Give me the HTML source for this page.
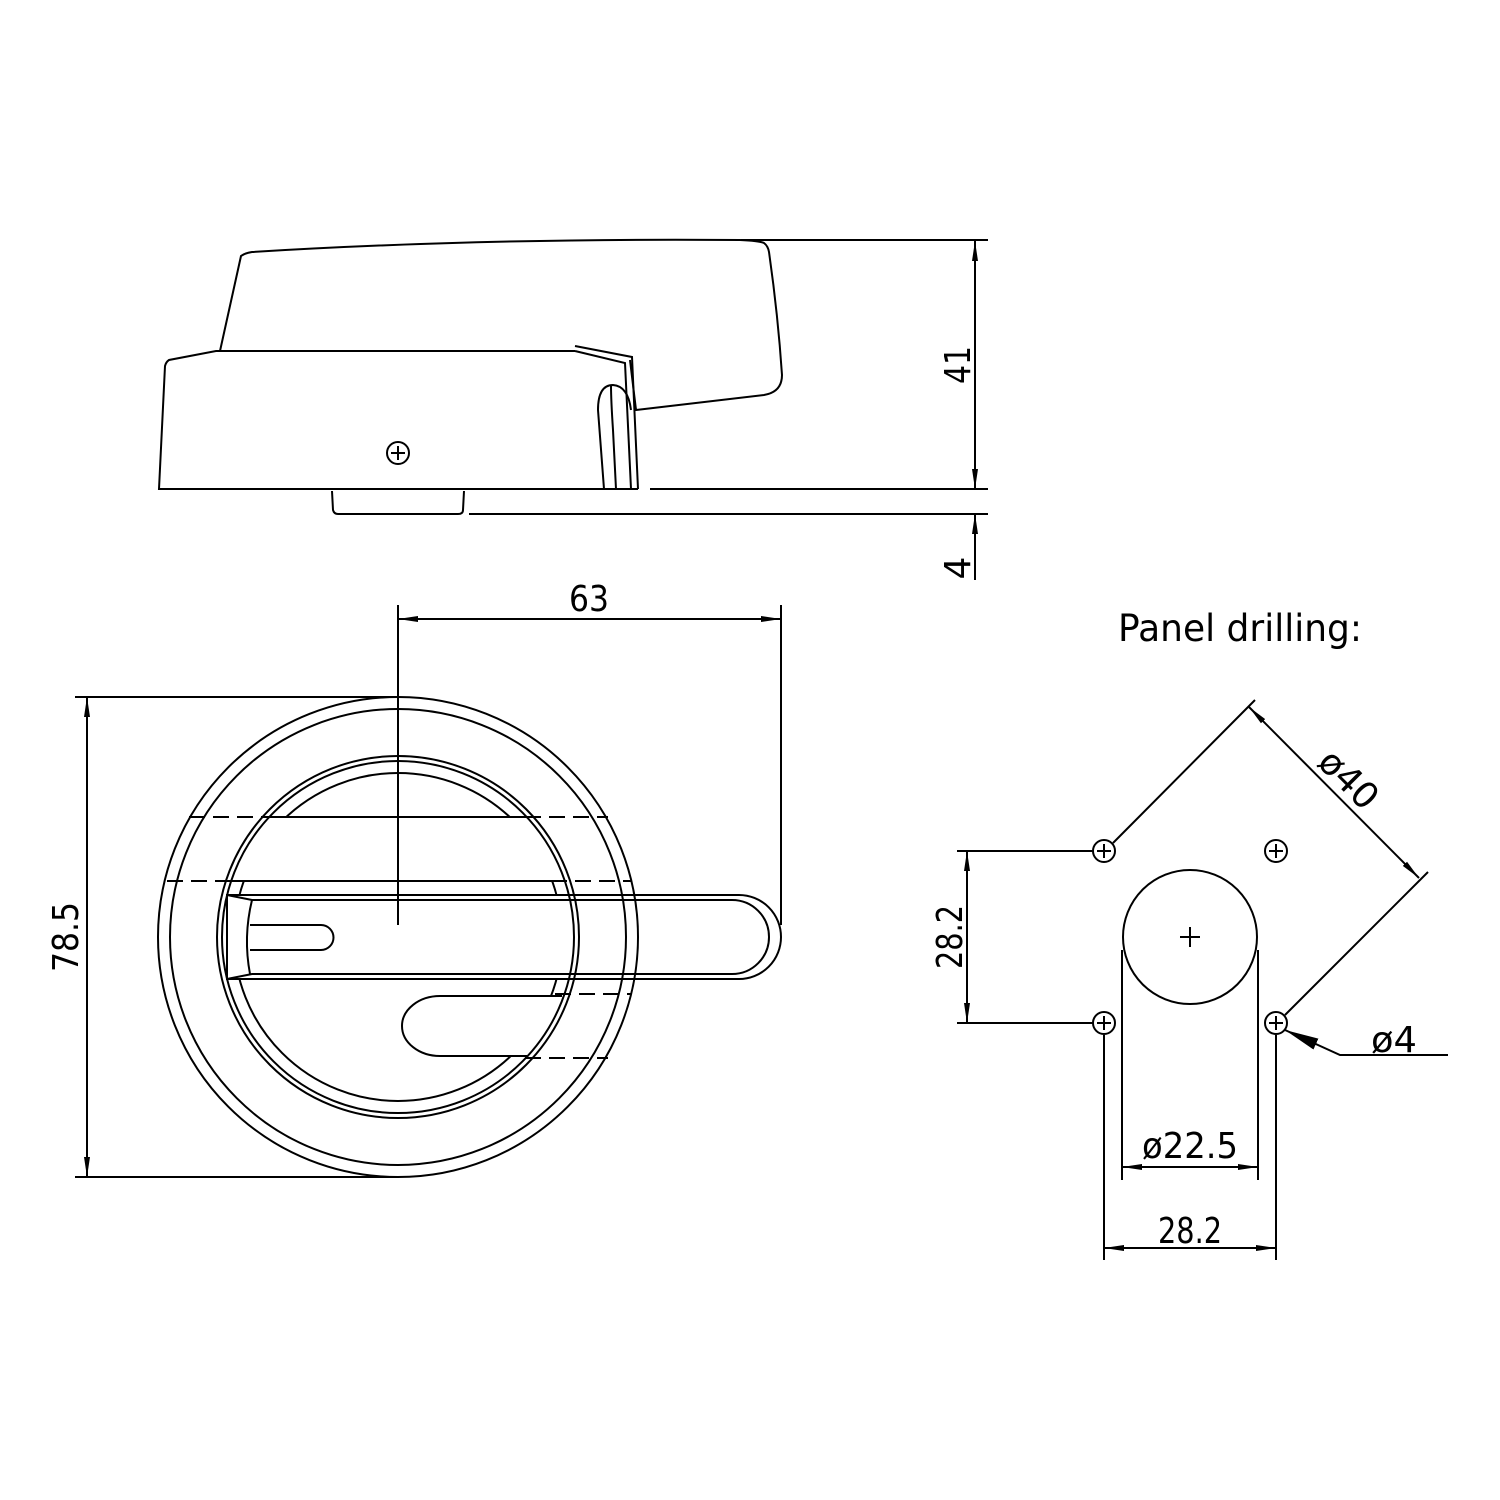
<!DOCTYPE html>
<html><head><meta charset="utf-8"><style>
html,body{margin:0;padding:0;background:#fff}
svg{display:block}
text{font-family:"DejaVu Sans","Liberation Sans",sans-serif;font-weight:normal;fill:#000}
</style></head><body>
<svg width="1500" height="1500" viewBox="0 0 1500 1500" xmlns="http://www.w3.org/2000/svg">
<defs>
<marker id="a" viewBox="0 0 20 8" refX="20" refY="4" markerWidth="20" markerHeight="8" orient="auto-start-reverse" markerUnits="userSpaceOnUse"><path d="M0,1 L20,4 L0,7 Z" fill="#000"/></marker>
<marker id="b" viewBox="0 0 34 12" refX="34" refY="6" markerWidth="34" markerHeight="12" orient="auto" markerUnits="userSpaceOnUse"><path d="M0,0 L34,6 L0,12 Z" fill="#000"/></marker>
<clipPath id="c"><circle cx="398" cy="937" r="172"/></clipPath>
</defs>
<g fill="none" stroke="#000" stroke-width="2">
<!-- side view -->
<path d="M220,351 L241,256 Q245,253 252,252 Q480,238 740,240 Q760,241 764,243 Q768,246 769,252 Q778,315 782,375 Q782,392 764,395 L636,410 L630,360"/>
<path d="M741,240 L988,240"/>
<path d="M575,351 L216,351 L169,360 Q166,362 165,366 L159,489 L638,489"/>
<path d="M650,489 L988,489"/>
<path d="M575,346 L632,357 L638,489"/>
<path d="M575,351 L625,363 L631,489"/>
<path d="M604,489 L598,410 Q598,385 613,385 Q628,386 631,410"/>
<path d="M611,385 Q611,400 613,430 L616,489"/>
<path d="M332,491 L333,510 Q334,514 338,514 L458,514 Q463,514 463,510 L464,491"/>
<path d="M469,514 L988,514"/>
<circle cx="398" cy="453" r="11"/>
<path d="M391,453 L405,453 M398,446 L398,460"/>
<!-- 41 / 4 dims -->
<path d="M975,489 L975,241" marker-start="url(#a)" marker-end="url(#a)"/>
<path d="M975,580 L975,514" marker-end="url(#a)"/>
<path d="M975,470 L975,489"/>
<!-- front view -->
<circle cx="398" cy="937" r="164"/>
<g clip-path="url(#c)" fill="#fff" stroke="none">
<rect x="220" y="818" width="360" height="62"/>
<rect x="402" y="995" width="180" height="62"/>
</g>
<path d="M189,817 L608,817" stroke-dasharray="16,8"/>
<path d="M262,817 L533,817"/>
<path d="M167,881 L631,881" stroke-dasharray="16,8"/>
<path d="M227,881 L566,881"/>
<path d="M555,994 L631,994" stroke-dasharray="16,8"/>
<path d="M525,1058 L608,1058" stroke-dasharray="16,8"/>
<path d="M227,895 L739,895 A42,42 0 0 1 739,979 L227,979 Z" fill="#fff"/>
<path d="M227,895 L252,900 L732,900 A37,37 0 0 1 732,974 L252,974 L227,979"/>
<path d="M252,900 Q243,937 250,974"/>
<path d="M250,925 L321,925 A12.5,12.5 0 0 1 321,950 L250,950"/>
<path d="M562,996 L440,996 A38,30 0 0 0 440,1056 L527,1056" fill="#fff"/>
<circle cx="398" cy="937" r="240"/>
<circle cx="398" cy="937" r="228"/>
<circle cx="398" cy="937" r="181"/>
<circle cx="398" cy="937" r="176"/>
<!-- 63 and 78.5 dims -->
<path d="M398,605 L398,925"/>
<path d="M781,605 L781,925"/>
<path d="M398,619 L781,619" marker-start="url(#a)" marker-end="url(#a)"/>
<path d="M75,697 L398,697 M75,1177 L398,1177"/>
<path d="M87,697 L87,1177" marker-start="url(#a)" marker-end="url(#a)"/>
<!-- panel drilling -->
<circle cx="1104" cy="851" r="11"/><path d="M1097,851 L1111,851 M1104,844 L1104,858"/>
<circle cx="1276" cy="851" r="11"/><path d="M1269,851 L1283,851 M1276,844 L1276,858"/>
<circle cx="1104" cy="1023" r="11"/><path d="M1097,1023 L1111,1023 M1104,1016 L1104,1030"/>
<circle cx="1276" cy="1023" r="11"/><path d="M1269,1023 L1283,1023 M1276,1016 L1276,1030"/>
<circle cx="1190" cy="937" r="67"/>
<path d="M1180,937 L1200,937 M1190,927 L1190,947"/>
<path d="M1122,950 L1122,1180 M1258,950 L1258,1180"/>
<path d="M1122,1167 L1258,1167" marker-start="url(#a)" marker-end="url(#a)"/>
<path d="M1104,1035 L1104,1260 M1276,1035 L1276,1260"/>
<path d="M1104,1248 L1276,1248" marker-start="url(#a)" marker-end="url(#a)"/>
<path d="M957,851 L1093,851 M957,1023 L1093,1023"/>
<path d="M967,851 L967,1023" marker-start="url(#a)" marker-end="url(#a)"/>
<path d="M1113,843 L1255,700 M1285,1015 L1428,872"/>
<path d="M1249,707 L1419,878" marker-start="url(#a)" marker-end="url(#a)"/>
<path d="M1448,1055 L1340,1055 L1285,1030" marker-end="url(#b)"/>
</g>
<g font-size="36">
<text x="589" y="611" text-anchor="middle" textLength="40" lengthAdjust="spacingAndGlyphs">63</text>
<text transform="translate(78,937) rotate(-90)" text-anchor="middle" textLength="70" lengthAdjust="spacingAndGlyphs">78.5</text>
<text transform="translate(970,365) rotate(-90)" text-anchor="middle" textLength="38" lengthAdjust="spacingAndGlyphs">41</text>
<text transform="translate(970,568) rotate(-90)" text-anchor="middle">4</text>
<text transform="translate(962,937) rotate(-90)" text-anchor="middle" textLength="64" lengthAdjust="spacingAndGlyphs">28.2</text>
<text x="1190" y="1158" text-anchor="middle" textLength="96" lengthAdjust="spacingAndGlyphs">ø22.5</text>
<text x="1190" y="1243" text-anchor="middle" textLength="64" lengthAdjust="spacingAndGlyphs">28.2</text>
<text x="1394" y="1052" text-anchor="middle" textLength="46" lengthAdjust="spacingAndGlyphs">ø4</text>
<text transform="translate(1340,788) rotate(45)" text-anchor="middle" textLength="68" lengthAdjust="spacingAndGlyphs">ø40</text>
<text x="1118" y="641" font-size="37" textLength="244" lengthAdjust="spacingAndGlyphs">Panel drilling:</text>
</g>
</svg>
</body></html>
